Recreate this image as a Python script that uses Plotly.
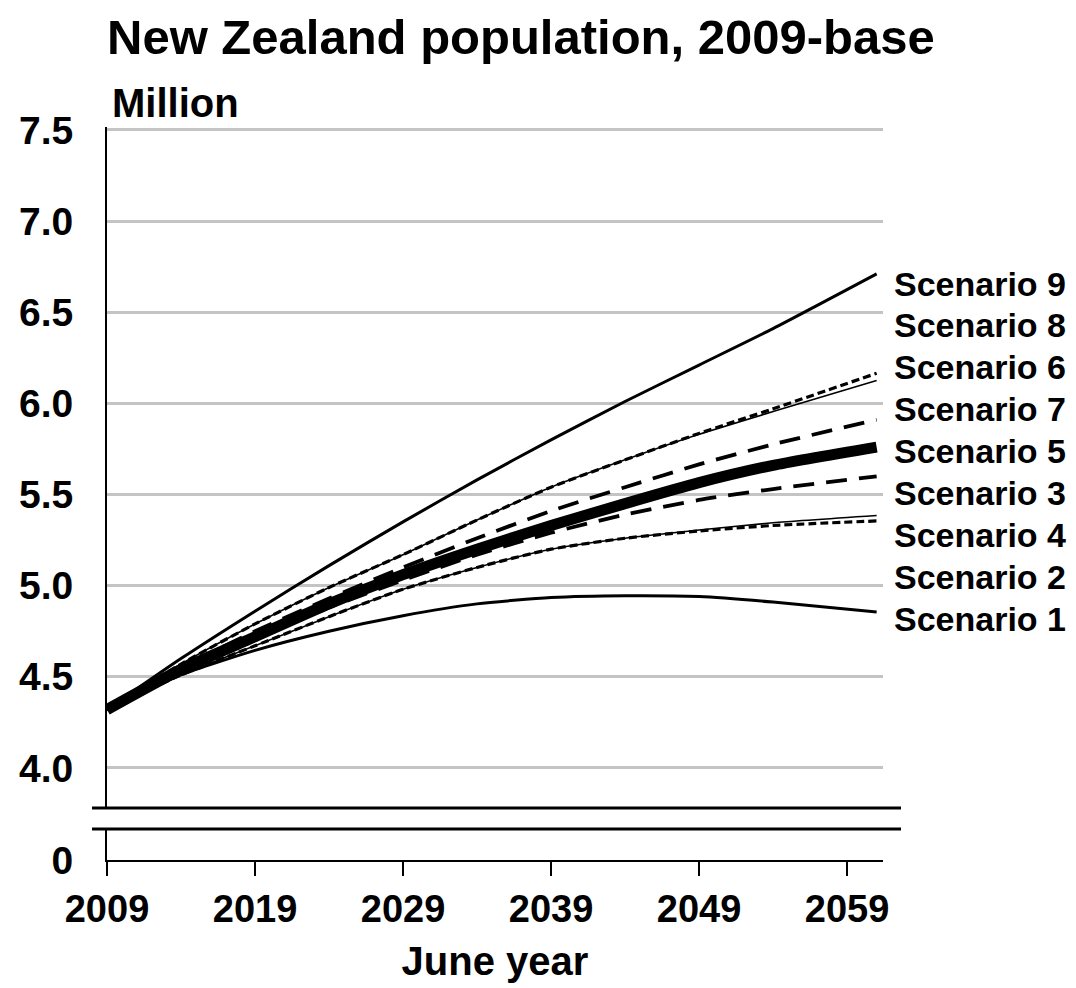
import plotly.graph_objects as go

# ---- data (millions) ----
years = [2009, 2014, 2019, 2024, 2029, 2034, 2039, 2044, 2049, 2054, 2061]
scenario_1 = [4.32, 4.51, 4.645, 4.75, 4.835, 4.90, 4.935, 4.945, 4.94, 4.91, 4.855]
scenario_2 = [4.32, 4.51, 4.67, 4.83, 4.98, 5.10, 5.20, 5.26, 5.30, 5.33, 5.355]
scenario_3 = [4.32, 4.53, 4.71, 4.88, 5.03, 5.17, 5.29, 5.39, 5.47, 5.53, 5.60]
scenario_4 = [4.32, 4.51, 4.67, 4.83, 4.98, 5.10, 5.20, 5.26, 5.305, 5.345, 5.385]
scenario_5 = [4.32, 4.54, 4.72, 4.90, 5.06, 5.20, 5.33, 5.45, 5.565, 5.66, 5.76]
scenario_6 = [4.32, 4.57, 4.79, 4.99, 5.17, 5.36, 5.54, 5.69, 5.83, 5.955, 6.125]
scenario_7 = [4.32, 4.55, 4.75, 4.93, 5.10, 5.26, 5.41, 5.54, 5.665, 5.775, 5.91]
scenario_8 = [4.32, 4.57, 4.79, 4.99, 5.17, 5.36, 5.54, 5.69, 5.835, 5.97, 6.165]
scenario_9 = [4.32, 4.60, 4.86, 5.11, 5.35, 5.58, 5.80, 6.01, 6.21, 6.41, 6.71]

label_order = ["Scenario 9", "Scenario 8", "Scenario 6", "Scenario 7", "Scenario 5",
               "Scenario 3", "Scenario 4", "Scenario 2", "Scenario 1"]
y_tick_vals = [4.0, 4.5, 5.0, 5.5, 6.0, 6.5, 7.0, 7.5]
y_tick_text = ["4.0", "4.5", "5.0", "5.5", "6.0", "6.5", "7.0", "7.5"]
x_tick_vals = [2009, 2019, 2029, 2039, 2049, 2059]

series = {
    "Scenario 1": scenario_1, "Scenario 2": scenario_2, "Scenario 3": scenario_3,
    "Scenario 4": scenario_4, "Scenario 5": scenario_5, "Scenario 6": scenario_6,
    "Scenario 7": scenario_7, "Scenario 8": scenario_8, "Scenario 9": scenario_9,
}

# ---- styles ----
FONT = "Liberation Sans, Arial, sans-serif"
styles = {
    "Scenario 5": dict(width=11, dash="solid"),
    "Scenario 1": dict(width=3, dash="solid"),
    "Scenario 9": dict(width=3, dash="solid"),
    "Scenario 6": dict(width=1.6, dash="solid"),
    "Scenario 4": dict(width=1.6, dash="solid"),
    "Scenario 7": dict(width=3.8, dash="21px,12px"),
    "Scenario 3": dict(width=3.8, dash="21px,12px"),
    "Scenario 8": dict(width=3.2, dash="8px,4px"),
    "Scenario 2": dict(width=3.2, dash="8px,4px"),
}
draw_order = ["Scenario 5", "Scenario 1", "Scenario 9", "Scenario 6", "Scenario 4",
              "Scenario 7", "Scenario 3", "Scenario 8", "Scenario 2"]

Y_MIN, Y_MAX = 3.495, 7.516
X_MIN, X_MAX = 2009, 2061.43

fig = go.Figure()
for name in draw_order:
    st = styles[name]
    fig.add_trace(go.Scatter(
        x=years, y=series[name], mode="lines", name=name,
        line=dict(color="black", width=st["width"], dash=st["dash"],
                  shape="spline", smoothing=0.6),
        showlegend=False, hoverinfo="skip"))

# scenario labels, evenly spaced at the right
label_top = 6.657
label_step = 0.2298
for i, name in enumerate(label_order):
    fig.add_annotation(
        text=f"<b>{name}</b>", x=1.0116, xref="paper", xanchor="left",
        y=label_top - i * label_step, yref="y", yanchor="middle",
        showarrow=False, font=dict(family=FONT, size=34, color="black"))

# "Million" unit label
fig.add_annotation(
    text="<b>Million</b>", x=0.004, xref="paper", xanchor="left",
    y=1.0327, yref="paper", yanchor="middle", showarrow=False,
    font=dict(family=FONT, size=40, color="black"))

# axis break
brk_hi, brk_lo = 3.78, 3.665
fig.add_shape(type="rect", xref="paper", yref="y", x0=-0.01, x1=0.01,
              y0=brk_lo, y1=brk_hi, fillcolor="white", line=dict(width=0),
              layer="above")
for yv in (brk_hi, brk_lo):
    fig.add_shape(type="line", xref="paper", yref="y", x0=-0.0193, x1=1.0232,
                  y0=yv, y1=yv, line=dict(color="black", width=3), layer="above")

fig.update_layout(
    width=1076, height=988,
    margin=dict(l=107, r=193, t=127, b=126),
    paper_bgcolor="white", plot_bgcolor="white",
    font=dict(family=FONT, color="black"),
    title=dict(text="<b>New Zealand population, 2009-base</b>",
               x=107 / 1076, xanchor="left", xref="container",
               y=1 - 37 / 988, yanchor="middle", yref="container",
               font=dict(family=FONT, size=49, color="black")),
)
fig.update_xaxes(
    range=[X_MIN, X_MAX], tickvals=x_tick_vals,
    ticks="outside", ticklen=14, tickwidth=1.5, tickcolor="black",
    showline=True, linecolor="black", linewidth=2,
    showgrid=False, zeroline=False,
    tickfont=dict(family=FONT, size=38, color="black", weight="bold"),
    title=dict(text="<b>June year</b>", standoff=18,
               font=dict(family=FONT, size=40, color="black")),
)
fig.update_yaxes(
    range=[Y_MIN, Y_MAX],
    tickvals=[Y_MIN] + y_tick_vals, ticktext=["0"] + y_tick_text,
    ticks="", showline=True, linecolor="black", linewidth=2,
    showgrid=True, gridcolor="#c4c4c4", gridwidth=3, zeroline=False,
    ticklabelstandoff=24,
    tickfont=dict(family=FONT, size=39, color="black", weight="bold"),
)

fig.write_html("out.html")
